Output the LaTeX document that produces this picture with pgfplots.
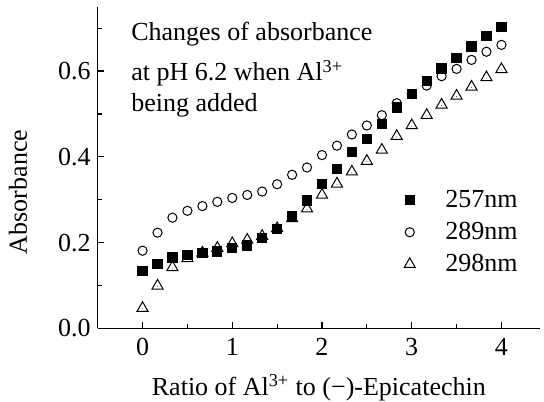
\documentclass[border=0pt]{standalone}
\usepackage{fontspec}
\setmainfont{Liberation Serif}
\usepackage{pgfplots}
\usepackage{pgfplotstable}
\pgfplotsset{compat=1.18}

\pgfdeclareplotmark{tridot}{%
  \pgfpathmoveto{\pgfqpointpolar{90}{1\pgfplotmarksize}}%
  \pgfpathlineto{\pgfqpointpolar{210}{1\pgfplotmarksize}}%
  \pgfpathlineto{\pgfqpointpolar{330}{1\pgfplotmarksize}}%
  \pgfpathclose
  \pgfusepathqstroke
  \pgfpathcircle{\pgfqpoint{0pt}{-0.1\pgfplotmarksize}}{0.2pt}%
  \pgfusepathqfill
}

\pgfplotstableread{
x      a      b      c
0      0.134  0.181  0.047
0.167  0.150  0.223  0.099
0.333  0.165  0.258  0.142
0.5    0.171  0.274  0.163
0.667  0.176  0.285  0.176
0.833  0.179  0.295  0.187
1      0.187  0.304  0.198
1.167  0.193  0.311  0.206
1.333  0.210  0.319  0.215
1.5    0.232  0.336  0.233
1.667  0.262  0.358  0.256
1.833  0.298  0.375  0.279
2      0.337  0.404  0.311
2.167  0.371  0.426  0.337
2.333  0.411  0.452  0.365
2.5    0.442  0.473  0.390
2.667  0.476  0.497  0.416
2.833  0.515  0.525  0.448
3      0.546  0.546  0.473
3.167  0.577  0.566  0.497
3.333  0.606  0.588  0.521
3.5    0.630  0.605  0.542
3.667  0.657  0.626  0.563
3.833  0.682  0.645  0.585
4      0.703  0.661  0.604
}\datatable

\newcommand{\fs}{\fontsize{13}{15.6}\selectfont}

\begin{document}
\begin{tikzpicture}
\begin{axis}[
  scale only axis,
  width=221.15pt, height=160.8pt,
  xmin=-0.5, xmax=4.43,
  ymin=0, ymax=0.75,
  axis x line*=bottom, axis y line*=left,
  axis line style={line width=0.6pt},
  tick style={line width=0.6pt, black},
  tick align=inside,
  major tick length=3.35pt,
  minor tick length=2pt,
  xtick={0,1,2,3,4},
  minor xtick={0.5,1.5,2.5,3.5},
  ytick={0,0.2,0.4,0.6},
  minor ytick={0.1,0.3,0.5,0.7},
  /pgf/number format/assume math mode=true,
  tick label style={font=\fs},
  yticklabel style={/pgf/number format/.cd, fixed, fixed zerofill, precision=1},
  xticklabel style={anchor=base, yshift=-13.4pt},
  xlabel={Ratio of Al\textsuperscript{3+} to (−)-Epicatechin},
  ylabel={Absorbance},
  every axis x label/.style={at={(axis description cs:0.5,-0.2077)}, anchor=base, font=\fs},
  every axis y label/.style={at={(axis description cs:-0.180,0.424)}, anchor=center, rotate=90, font=\fs},
  legend style={draw=none, fill=none, font=\fs, at={(axis cs:2.84,0.337)}, anchor=north west,
    row sep=3.85pt, nodes={inner sep=1pt},
    /tikz/every odd column/.append style={column sep=13.85pt}},
  legend cell align=left,
  legend image code/.code={\path[draw=none,fill=none] (-3pt,-3pt) rectangle (3pt,3pt); \draw[#1, only marks] plot coordinates {(0pt,0pt)};},
  clip=false,
]
\addplot[only marks, mark=square*, mark size=2.3pt, black, mark options={line width=0.5pt}] table[x=x, y=a] {\datatable};
\addlegendentry{257nm}
\addplot[only marks, mark=o, mark size=2.3pt, black, mark options={line width=0.5pt}] table[x=x, y=b] {\datatable};
\addlegendentry{289nm}
\addplot[only marks, mark=tridot, mark size=3.2pt, black, mark options={line width=0.5pt}] table[x=x, y=c] {\datatable};
\addlegendentry{298nm}

\node[anchor=base west, font=\fs, inner sep=0pt] at (axis cs:-0.13,0.6706) {Changes of absorbance};
\node[anchor=base west, font=\fs, inner sep=0pt] at (axis cs:-0.13,0.5773) {at pH 6.2 when Al\textsuperscript{3+}};
\node[anchor=base west, font=\fs, inner sep=0pt] at (axis cs:-0.13,0.505) {being added};
\end{axis}
\pgfresetboundingbox
\path[use as bounding box] (-48.85pt,-36.35pt) rectangle (223.15pt,164.15pt);
\end{tikzpicture}
\end{document}
